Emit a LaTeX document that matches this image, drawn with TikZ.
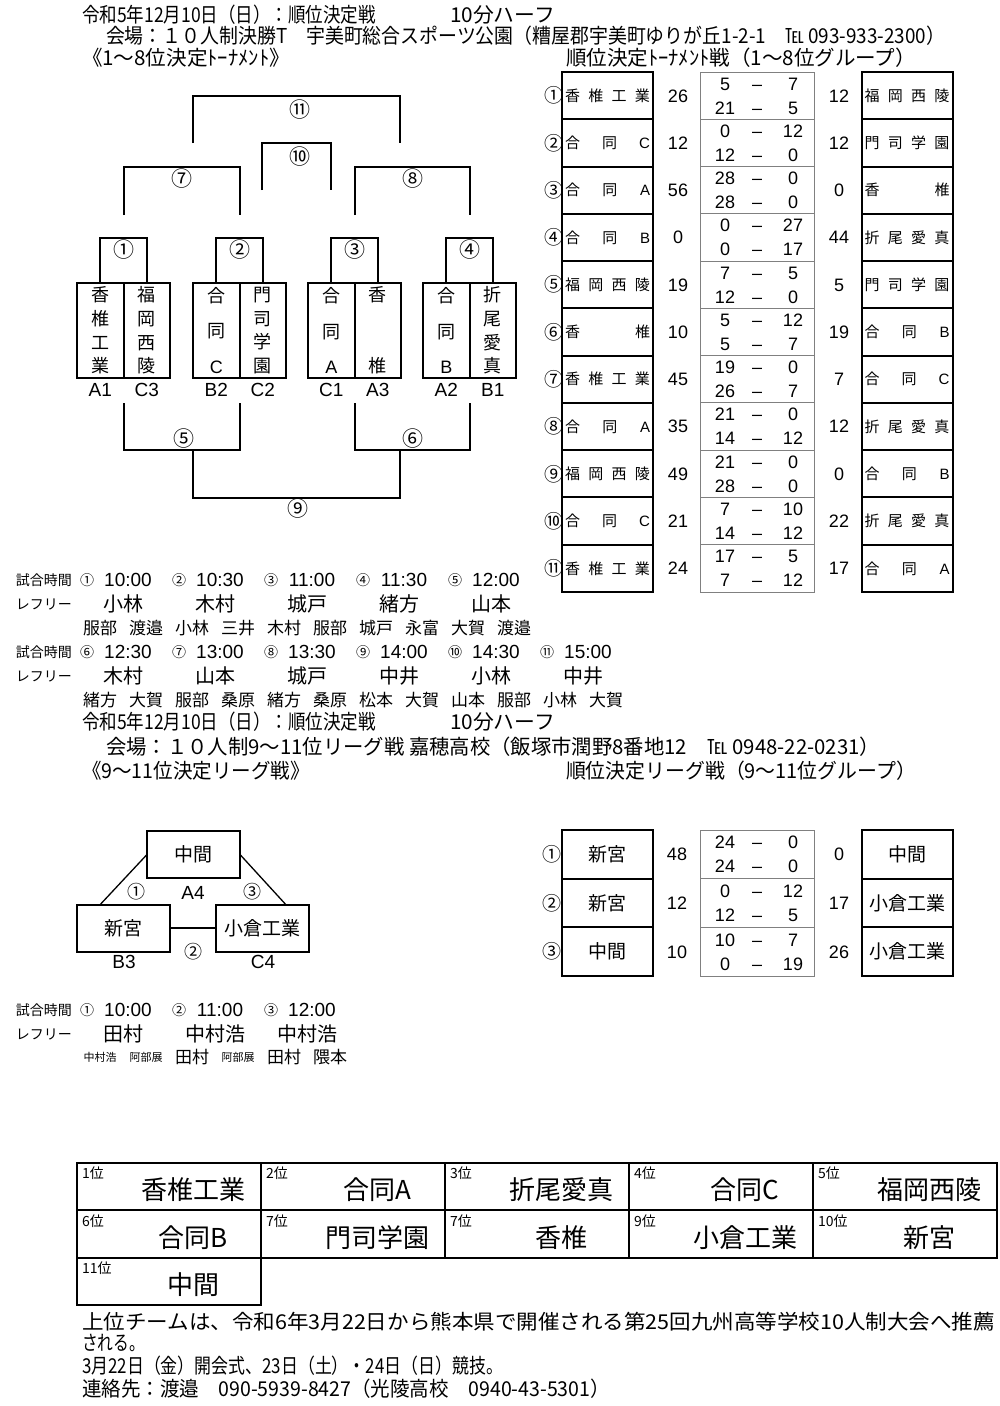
\documentclass[tikz,border=0pt]{standalone}
\usepackage{fontspec}
\setmainfont{Noto Sans CJK JP}
\newfontfamily\arf{Liberation Sans}
\usepackage{graphicx}
\usetikzlibrary{calc}
\newcommand\fsz[1]{\fontsize{#1}{#1}\selectfont}
\newcommand\fitw[2]{\resizebox{#1pt}{\height}{#2}}
\newcommand\spread[1]{\makebox[85pt][s]{#1}}
\begin{document}
\begin{tikzpicture}[x=1pt,y=-1pt,
  every node/.style={inner sep=0pt,outer sep=0pt},
  br/.style={line width=2pt},
  cbig/.style={font=\fsz{21}},
  cmid/.style={font=\fsz{19}},
  csm/.style={font=\fsz{14}},
  lab/.style={font=\arf\fsz{19}},
  colbox/.style={draw,line width=2pt,minimum width=46.5pt,minimum height=95pt,anchor=north west,align=center},
  cfour/.style={colbox,font=\fontsize{18}{23.7}\selectfont},
  cthree/.style={colbox,font=\fontsize{18}{35.5}\selectfont},
  ctwo/.style={colbox,font=\fontsize{18}{71}\selectfont},
  rowbox/.style={draw,line width=2pt,minimum width=91pt,minimum height=47.27pt,font=\fsz{15}},
  midbox/.style={draw=black!50,line width=0.9pt,minimum width=114pt,minimum height=47.27pt},
  num/.style={font=\arf\fsz{18},text height=12.9pt,text depth=0pt},
  lgbox/.style={draw,line width=2pt,minimum width=91pt,minimum height=48.67pt,font=\fsz{19}},
  lgmid/.style={draw=black!50,line width=0.9pt,minimum width=114pt,minimum height=48.67pt},
  tribox/.style={draw,line width=2pt,minimum width=93pt,minimum height=47pt,font=\fsz{19}},
  hd/.style={anchor=west,font=\fsz{20.5}},
  smlab/.style={font=\fsz{14}},
  tim/.style={font=\arf\fsz{19}},
  refn/.style={font=\fsz{20}},
  lin/.style={font=\fsz{17}},
  tinyn/.style={font=\fsz{11}},
  rkcell/.style={draw,line width=2pt,minimum width=184pt,minimum height=47.3pt,anchor=north west},
]
\useasboundingbox (0,0) rectangle (1000,1406);

% ---------- header 1 ----------
\node[hd] (h1a) at (82,15) {\fitw{294}{令和5年12月10日（日）：順位決定戦}};
\node[hd] (h1b) at (450,15) {\fitw{105}{10分ハーフ}};
\node[hd] (h2) at (106,36) {\fitw{839}{会場：１０人制決勝T　宇美町総合スポーツ公園（糟屋郡宇美町ゆりが丘1-2-1　℡ 093-933-2300）}};
\node[hd] (h3a) at (82,58) {\fitw{208}{《1〜8位決定ﾄｰﾅﾒﾝﾄ》}};
\node[hd] (h3b) at (566,58) {\fitw{350}{順位決定ﾄｰﾅﾒﾝﾄ戦（1〜8位グループ）}};

% ---------- tournament boxes ----------
\node[cfour]  (t1) at (77,283)    {香\\椎\\工\\業};
\node[cfour]  (t2) at (123.5,283) {福\\岡\\西\\陵};
\node[cthree] (t3) at (193,283)   {合\\同\\{\arf C}};
\node[cfour]  (t4) at (239.5,283) {門\\司\\学\\園};
\node[cthree] (t5) at (308,283)   {合\\同\\{\arf A}};
\node[ctwo]   (t6) at (354.5,283) {香\\椎};
\node[cthree] (t7) at (423,283)   {合\\同\\{\arf B}};
\node[cfour]  (t8) at (469.5,283) {折\\尾\\愛\\真};

\foreach \n/\s in {1/A1,2/C3,3/B2,4/C2,5/C1,6/A3,7/A2,8/B1}
  \node[lab] (l\n) at ($(t\n.south)+(0,12)$) {\s};

% first round brackets
\foreach \a/\b/\cn in {1/2/①,3/4/②,5/6/③,7/8/④}{
  \draw[br] (t\a.north) -- ++(0,-45) -| (t\b.north);
  \node[cbig] (m\a) at ($(t\a.north east)+(0,-33)$) {\cn};
}

% upper brackets
\coordinate (u7a) at (123.5,215); \coordinate (u7b) at (239.5,215);
\coordinate (u8a) at (354.5,215); \coordinate (u8b) at (469.5,215);
\coordinate (u10a) at (262,190); \coordinate (u10b) at (331,190);
\coordinate (u11a) at (193,143); \coordinate (u11b) at (400,143);
\draw[br] (u7a) -- ++(0,-48) -| (u7b);
\draw[br] (u8a) -- ++(0,-48) -| (u8b);
\draw[br] (u10a) -- ++(0,-47) -| (u10b);
\draw[br] (u11a) -- ++(0,-47) -| (u11b);
\node[cbig] (m7) at (182,179) {⑦};
\node[cbig] (m8) at (413,179) {⑧};
\node[cbig] (m10) at (300,157) {⑩};
\node[cbig] (m11) at (300,110) {⑪};

% lower brackets
\coordinate (d5a) at (123.5,403); \coordinate (d5b) at (239.5,403);
\coordinate (d6a) at (354.5,403); \coordinate (d6b) at (469.5,403);
\coordinate (d9a) at (193,450); \coordinate (d9b) at (400,450);
\draw[br] (d5a) -- ++(0,47) -| (d5b);
\draw[br] (d6a) -- ++(0,47) -| (d6b);
\draw[br] (d9a) -- ++(0,48) -| (d9b);
\node[cbig] (m5) at (184,439) {⑤};
\node[cbig] (m6) at (413,439) {⑥};
\node[cbig] (m9) at (298,509) {⑨};

% ---------- result table 1-8 ----------
\foreach \i/\cn/\lname/\ls/\va/\vb/\vc/\vd/\rs/\rname in {
1/①/{香\hfill 椎\hfill 工\hfill 業}/26/5/7/21/5/12/{福\hfill 岡\hfill 西\hfill 陵},
2/②/{合\hfill 同\hfill {\arf C}}/12/0/12/12/0/12/{門\hfill 司\hfill 学\hfill 園},
3/③/{合\hfill 同\hfill {\arf A}}/56/28/0/28/0/0/{香\hfill 椎},
4/④/{合\hfill 同\hfill {\arf B}}/0/0/27/0/17/44/{折\hfill 尾\hfill 愛\hfill 真},
5/⑤/{福\hfill 岡\hfill 西\hfill 陵}/19/7/5/12/0/5/{門\hfill 司\hfill 学\hfill 園},
6/⑥/{香\hfill 椎}/10/5/12/5/7/19/{合\hfill 同\hfill {\arf B}},
7/⑦/{香\hfill 椎\hfill 工\hfill 業}/45/19/0/26/7/7/{合\hfill 同\hfill {\arf C}},
8/⑧/{合\hfill 同\hfill {\arf A}}/35/21/0/14/12/12/{折\hfill 尾\hfill 愛\hfill 真},
9/⑨/{福\hfill 岡\hfill 西\hfill 陵}/49/21/0/28/0/0/{合\hfill 同\hfill {\arf B}},
10/⑩/{合\hfill 同\hfill {\arf C}}/21/7/10/14/12/22/{折\hfill 尾\hfill 愛\hfill 真},
11/⑪/{香\hfill 椎\hfill 工\hfill 業}/24/17/5/7/12/17/{合\hfill 同\hfill {\arf A}}}
{
  \pgfmathsetmacro\yc{72+47.27*(\i-0.5)}
  \node[cmid] (tc\i) at (554,\yc) {\cn};
  \node[rowbox] (tl\i) at (607.5,\yc) {\spread{\lname}};
  \node[num] (ts\i) at (678,\yc) {\ls};
  \node[midbox] (tm\i) at (757,\yc) {};
  \node[num] (ta\i) at (725,\yc-12) {\va};
  \node[num] (td\i) at (757,\yc-12) {–};
  \node[num] (tb\i) at (793,\yc-12) {\vb};
  \node[num] (te\i) at (725,\yc+12) {\vc};
  \node[num] (tf\i) at (757,\yc+12) {–};
  \node[num] (tg\i) at (793,\yc+12) {\vd};
  \node[num] (tr\i) at (839,\yc) {\rs};
  \node[rowbox] (tq\i) at (907,\yc) {\spread{\rname}};
}

% ---------- schedule 1 ----------
\node[smlab] (sh1) at (44,580) {試合時間};
\node[smlab] (sr1) at (44,604) {レフリー};
\foreach \n/\cn/\tm/\rf/\pa/\pb in {0/①/10:00/小林/服部/渡邉,1/②/10:30/木村/小林/三井,2/③/11:00/城戸/木村/服部,3/④/11:30/緒方/城戸/永富,4/⑤/12:00/山本/大賀/渡邉}{
  \pgfmathsetmacro\bx{100+92*\n}
  \node[csm] (sa\n) at (\bx-13,580) {\cn};
  \node[tim] (sb\n) at (\bx+28,580) {\tm};
  \node[refn] (sc\n) at (\bx+23,604) {\rf};
  \node[lin] (sd\n) at (\bx,628) {\pa};
  \node[lin] (se\n) at (\bx+46,628) {\pb};
}
\node[smlab] (sh2) at (44,652) {試合時間};
\node[smlab] (sr2) at (44,676) {レフリー};
\foreach \n/\cn/\tm/\rf/\pa/\pb in {0/⑥/12:30/木村/緒方/大賀,1/⑦/13:00/山本/服部/桑原,2/⑧/13:30/城戸/緒方/桑原,3/⑨/14:00/中井/松本/大賀,4/⑩/14:30/小林/山本/服部,5/⑪/15:00/中井/小林/大賀}{
  \pgfmathsetmacro\bx{100+92*\n}
  \node[csm] (sf\n) at (\bx-13,652) {\cn};
  \node[tim] (sg\n) at (\bx+28,652) {\tm};
  \node[refn] (si\n) at (\bx+23,676) {\rf};
  \node[lin] (sj\n) at (\bx,700) {\pa};
  \node[lin] (sk\n) at (\bx+46,700) {\pb};
}

% ---------- header 2 ----------
\node[hd] (g1a) at (82,722) {\fitw{294}{令和5年12月10日（日）：順位決定戦}};
\node[hd] (g1b) at (450,722) {\fitw{105}{10分ハーフ}};
\node[hd] (g2) at (106,747) {\fitw{774}{会場：１０人制9〜11位リーグ戦 嘉穂高校（飯塚市潤野8番地12　℡ 0948-22-0231）}};
\node[hd] (g3a) at (82,771) {\fitw{228}{《9〜11位決定リーグ戦》}};
\node[hd] (g3b) at (566,771) {\fitw{350}{順位決定リーグ戦（9〜11位グループ）}};

% ---------- league triangle ----------
\node[tribox] (chukan) at (193.5,854.5) {中間};
\node[tribox] (shingu) at (123.5,928) {新宮};
\node[tribox] (kokura) at (262.5,928) {小倉工業};
\draw[line width=1.3pt] (chukan.west) -- ($(shingu.north west)!0.25!(shingu.north east)$);
\draw[line width=1.3pt] (chukan.east) -- ($(kokura.north west)!0.75!(kokura.north east)$);
\draw[line width=1.3pt] (shingu) -- (kokura);
\node[lab] (a4) at (193,893) {A4};
\node[lab] (b3) at (124,962) {B3};
\node[lab] (c4) at (263,962) {C4};
\node[font=\fsz{18}] (k1) at (136,892) {①};
\node[font=\fsz{18}] (k3) at (252,892) {③};
\node[font=\fsz{18}] (k2) at (193,952) {②};

% ---------- league table ----------
\foreach \i/\cn/\lname/\ls/\va/\vb/\vc/\vd/\rs/\rname in {
1/①/新宮/48/24/0/24/0/0/中間,
2/②/新宮/12/0/12/12/5/17/小倉工業,
3/③/中間/10/10/7/0/19/26/小倉工業}
{
  \pgfmathsetmacro\yc{830+48.67*(\i-0.5)}
  \node[cmid] (lc\i) at (552,\yc) {\cn};
  \node[lgbox] (ll\i) at (607.5,\yc) {\lname};
  \node[num] (ls\i) at (677,\yc) {\ls};
  \node[lgmid] (lm\i) at (757,\yc) {};
  \node[num] (la\i) at (725,\yc-12) {\va};
  \node[num] (ld\i) at (757,\yc-12) {–};
  \node[num] (lb\i) at (793,\yc-12) {\vb};
  \node[num] (le\i) at (725,\yc+12) {\vc};
  \node[num] (lf\i) at (757,\yc+12) {–};
  \node[num] (lg\i) at (793,\yc+12) {\vd};
  \node[num] (lr\i) at (839,\yc) {\rs};
  \node[lgbox] (lq\i) at (907,\yc) {\rname};
}

% ---------- schedule 2 ----------
\node[smlab] (qh) at (44,1010) {試合時間};
\node[smlab] (qr) at (44,1034) {レフリー};
\foreach \n/\cn/\tm/\rf in {0/①/10:00/田村,1/②/11:00/中村浩,2/③/12:00/中村浩}{
  \pgfmathsetmacro\bx{100+92*\n}
  \node[csm] (qa\n) at (\bx-13,1010) {\cn};
  \node[tim] (qb\n) at (\bx+28,1010) {\tm};
  \node[refn] (qc\n) at (\bx+23,1034) {\rf};
}
\node[tinyn] (qd0) at (100,1057) {中村浩};
\node[tinyn] (qe0) at (146,1057) {阿部展};
\node[lin] (qd1) at (192,1057) {田村};
\node[tinyn] (qe1) at (238,1057) {阿部展};
\node[lin] (qd2) at (284,1057) {田村};
\node[lin] (qe2) at (330,1057) {隈本};

% ---------- final ranking ----------
\foreach \cl/\rw/\rk/\nm in {0/0/1位/香椎工業,1/0/2位/合同A,2/0/3位/折尾愛真,3/0/4位/合同C,4/0/5位/福岡西陵,0/1/6位/合同B,1/1/7位/門司学園,2/1/7位/香椎,3/1/9位/小倉工業,4/1/10位/新宮,0/2/11位/中間}{
  \pgfmathsetmacro\xl{77+184*\cl}
  \pgfmathsetmacro\yt{1163+47.3*\rw}
  \node[rkcell] (fc\cl\rw) at (\xl,\yt) {};
  \node[anchor=north west,font=\fsz{14}] (fr\cl\rw) at (\xl+5,\yt+4) {\rk};
  \node[font=\fsz{26}] (fn\cl\rw) at (\xl+116,\yt+27) {\nm};
}

% ---------- footer ----------
\node[hd] (f1) at (82,1322) {\fitw{913}{上位チームは、令和6年3月22日から熊本県で開催される第25回九州高等学校10人制大会へ推薦}};
\node[hd] (f2) at (82,1343) {\fitw{63}{される。}};
\node[hd] (f3) at (82,1366) {\fitw{421}{3月22日（金）開会式、23日（土）・24日（日）競技。}};
\node[hd] (f4) at (82,1389) {\fitw{528}{連絡先：渡邉　090-5939-8427（光陵高校　0940-43-5301）}};
\end{tikzpicture}
\end{document}
